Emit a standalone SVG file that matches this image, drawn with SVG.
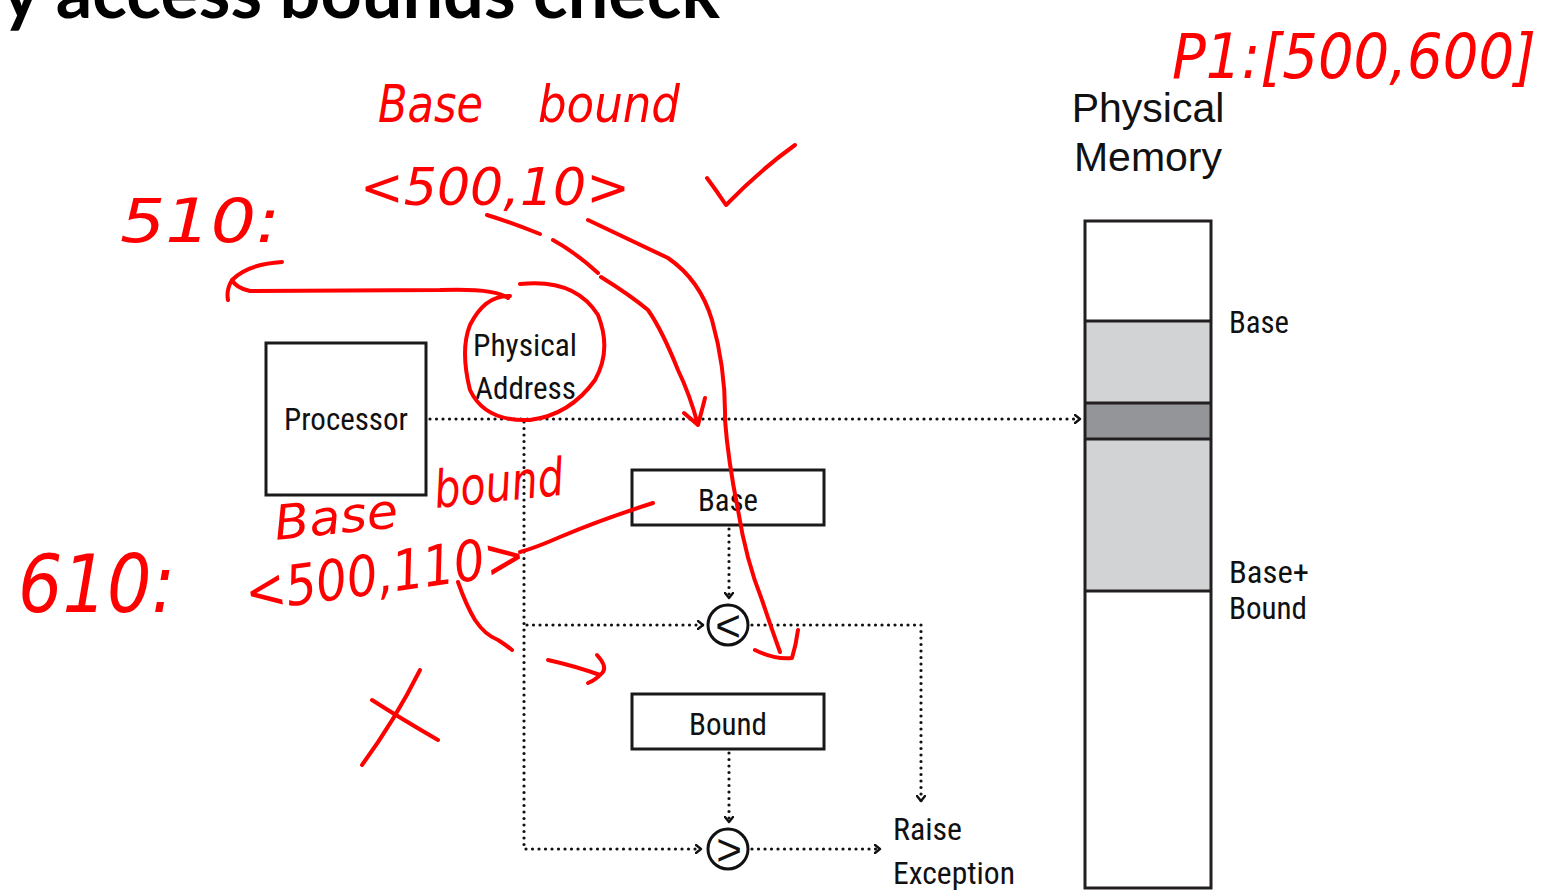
<svg xmlns="http://www.w3.org/2000/svg" width="1560" height="891" viewBox="0 0 1560 891">
  <style>
    .lbl { font-family: "Liberation Sans Narrow", "Roboto Condensed", "Liberation Sans", sans-serif; font-size: 32px; fill: #111; }
    .box { fill: #fff; stroke: #1a1a1a; stroke-width: 3; }
    .dot { fill: none; stroke: #111; stroke-width: 3.2; stroke-dasharray: 0 6.5; stroke-linecap: round; }
    .cmp { fill: #fff; stroke: #111; stroke-width: 3; }
    .ink { fill: none; stroke: #ff0000; stroke-width: 4; stroke-linecap: round; stroke-linejoin: round; }
    .hand { font-family: "DejaVu Sans", "Liberation Sans", sans-serif; font-style: italic; fill: #ff0000; }
  </style>
  <defs>
    <marker id="chev" viewBox="0 0 8 10" refX="6" refY="5" markerWidth="8" markerHeight="10" markerUnits="userSpaceOnUse" orient="auto">
      <path d="M1,1 L6,5 L1,9" fill="none" stroke="#111" stroke-width="2.4" stroke-linecap="round" stroke-linejoin="round"/>
    </marker>
  </defs>

  <rect width="1560" height="891" fill="#fff"/>

  <!-- slide title, clipped by the top-left edge -->
  <text x="720" y="18" text-anchor="end" font-family="Lato, 'Open Sans', sans-serif" font-weight="bold" font-size="72" fill="#000">Memory access bounds check</text>

  <!-- connectors -->
  <g id="connectors">
    <path class="dot" d="M430 419 H1080" marker-end="url(#chev)"/>
    <path class="dot" d="M524 422 V849 H701" marker-end="url(#chev)"/>
    <path class="dot" d="M527 625 H703" marker-end="url(#chev)"/>
    <path class="dot" d="M729 529 V598" marker-end="url(#chev)"/>
    <path class="dot" d="M752 625 H921 V801" marker-end="url(#chev)"/>
    <path class="dot" d="M729 753 V822" marker-end="url(#chev)"/>
    <path class="dot" d="M752 849 H880" marker-end="url(#chev)"/>
  </g>

  <g id="processor">
    <rect class="box" x="266" y="343" width="160" height="152"/>
    <text class="lbl" x="284" y="430" textLength="124" lengthAdjust="spacingAndGlyphs">Processor</text>
  </g>

  <g id="physical-address">
    <text class="lbl" x="473" y="356" textLength="104" lengthAdjust="spacingAndGlyphs">Physical</text>
    <text class="lbl" x="475" y="399" textLength="101" lengthAdjust="spacingAndGlyphs">Address</text>
  </g>

  <g id="base-register">
    <rect class="box" x="632" y="470" width="192" height="55"/>
    <text class="lbl" x="698" y="511" textLength="60" lengthAdjust="spacingAndGlyphs">Base</text>
  </g>

  <g id="less-than">
    <circle class="cmp" cx="728" cy="625" r="20"/>
    <text x="728" y="641" text-anchor="middle" font-family="'Liberation Sans', sans-serif" font-size="44" fill="#111">&lt;</text>
  </g>

  <g id="bound-register">
    <rect class="box" x="632" y="694" width="192" height="55"/>
    <text class="lbl" x="689" y="735" textLength="78" lengthAdjust="spacingAndGlyphs">Bound</text>
  </g>

  <g id="greater-than">
    <circle class="cmp" cx="728" cy="849" r="20"/>
    <text x="729" y="865" text-anchor="middle" font-family="'Liberation Sans', sans-serif" font-size="44" fill="#111">&gt;</text>
  </g>

  <g id="raise-exception">
    <text class="lbl" x="893" y="840" textLength="69" lengthAdjust="spacingAndGlyphs">Raise</text>
    <text class="lbl" x="893" y="884" textLength="122" lengthAdjust="spacingAndGlyphs">Exception</text>
  </g>

  <g id="physical-memory">
    <text x="1148" y="122" text-anchor="middle" font-family="'Liberation Sans', sans-serif" font-size="41" fill="#111">Physical</text>
    <text x="1148" y="171" text-anchor="middle" font-family="'Liberation Sans', sans-serif" font-size="41" fill="#111">Memory</text>
    <rect x="1085" y="321" width="126" height="270" fill="#d1d3d4"/>
    <rect x="1085" y="403" width="126" height="36" fill="#939598"/>
    <rect x="1085" y="221" width="126" height="667" fill="none" stroke="#231f20" stroke-width="3"/>
    <path d="M1085 321 H1211 M1085 403 H1211 M1085 439 H1211 M1085 591 H1211" stroke="#231f20" stroke-width="3"/>
    <text class="lbl" x="1229" y="333" textLength="60" lengthAdjust="spacingAndGlyphs">Base</text>
    <text class="lbl" x="1229" y="583" textLength="80" lengthAdjust="spacingAndGlyphs">Base+</text>
    <text class="lbl" x="1229" y="619" textLength="78" lengthAdjust="spacingAndGlyphs">Bound</text>
  </g>

  <!-- red pen notes -->
  <g id="pen-notes">
    <text class="hand" x="378" y="122" font-size="52" textLength="105" lengthAdjust="spacingAndGlyphs">Base</text>
    <text class="hand" x="538" y="122" font-size="52" textLength="142" lengthAdjust="spacingAndGlyphs">bound</text>
    <text class="hand" x="360" y="205" font-size="52" textLength="270" lengthAdjust="spacingAndGlyphs">&lt;500,10&gt;</text>
    <text class="hand" x="120" y="242" font-size="60" textLength="160" lengthAdjust="spacingAndGlyphs">510:</text>
    <text class="hand" x="1172" y="78" font-size="62" textLength="364" lengthAdjust="spacingAndGlyphs">P1:[500,600]</text>
    <text class="hand" x="276" y="540" font-size="48" textLength="124" lengthAdjust="spacingAndGlyphs" transform="rotate(-6 276 540)">Base</text>
    <text class="hand" x="436" y="508" font-size="52" textLength="130" lengthAdjust="spacingAndGlyphs" transform="rotate(-6 436 508)">bound</text>
    <text class="hand" x="248" y="612" font-size="56" textLength="282" lengthAdjust="spacingAndGlyphs" transform="rotate(-8 248 612)">&lt;500,110&gt;</text>
    <text class="hand" x="18" y="612" font-size="80" textLength="157" lengthAdjust="spacingAndGlyphs">610:</text>

    <!-- check mark and cross -->
    <path class="ink" d="M707 178 Q716 190 726 205 Q760 170 795 145"/>
    <path class="ink" d="M372 700 Q400 718 438 740 M420 670 Q395 720 362 765"/>

    <!-- ring round the physical address and its back-arrow -->
    <path class="ink" d="M520 284 Q575 278 598 315 Q612 350 595 380 Q570 415 530 420 Q485 422 470 390 Q460 350 470 325 Q485 295 510 296"/>
    <path class="ink" d="M508 298 Q495 288 440 290 L250 291 Q236 288 232 280 M282 262 Q248 264 232 280 Q226 290 228 300"/>

    <!-- broken stroke down to the main address line -->
    <path class="ink" d="M487 215 Q510 222 540 234 M553 240 Q575 252 598 273 M601 277 Q630 295 648 310 Q662 330 678 370 Q690 395 698 425 M684 413 L698 425 Q702 410 705 398"/>

    <!-- long stroke past the base register -->
    <path class="ink" d="M588 220 Q630 240 668 258 Q700 280 712 320 Q726 370 725 420 Q728 460 738 510 Q746 560 762 600 Q772 630 780 652 M755 650 Q775 660 792 658 Q796 645 798 630"/>

    <!-- strokes round the second note -->
    <path class="ink" d="M653 503 Q600 520 560 537 Q535 548 520 552"/>
    <path class="ink" d="M458 582 Q466 605 475 620 Q485 635 498 640 Q506 645 512 650"/>
    <path class="ink" d="M548 660 Q575 666 600 675 M597 655 Q607 666 603 672 Q596 680 588 683"/>
  </g>
</svg>
